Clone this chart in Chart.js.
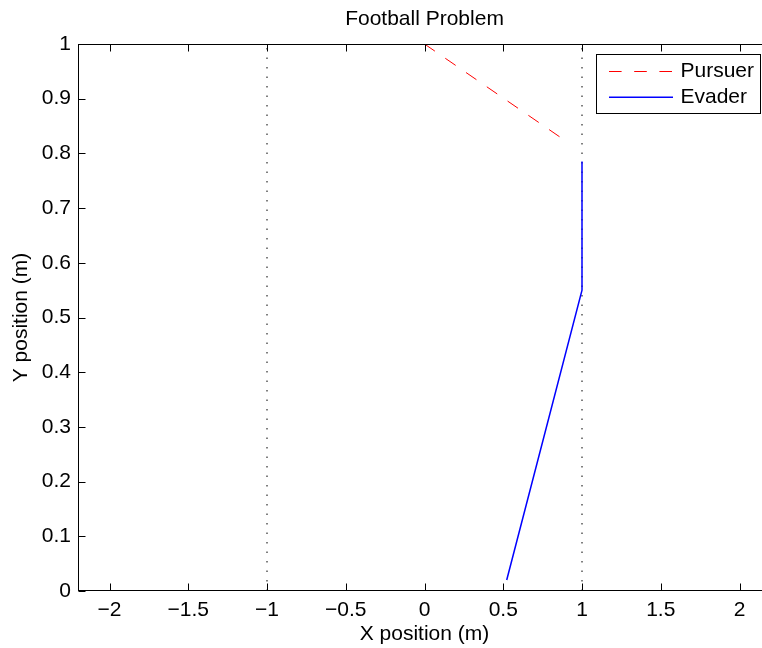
<!DOCTYPE html>
<html>
<head>
<meta charset="utf-8">
<script src="https://cdn.jsdelivr.net/npm/chart.js@4/dist/chart.umd.min.js"></script>
<style>
  html, body { margin: 0; padding: 0; background: #fff; overflow: hidden; }
  #wrap { position: absolute; left: 0; top: 0; width: 800px; height: 648px; }
</style>
</head>
<body>
<div id="wrap"><canvas id="c" width="800" height="648"></canvas></div>
<script>
// Trajectories (metres)
const pursuerX = [0, 0.89];
const pursuerY = [1, 0.824];
const evaderX = [0.522, 1, 1];
const evaderY = [0.02, 0.55, 0.785];

// Field sidelines
const sidelineLeftX = [-1, -1];
const sidelineRightX = [1, 1];
const sidelineY = [0, 1];

// Axis ticks
const xTickValues = [-2, -1.5, -1, -0.5, 0, 0.5, 1, 1.5, 2];
const yTickValues = [0, 0.1, 0.2, 0.3, 0.4, 0.5, 0.6, 0.7, 0.8, 0.9, 1];

const titleText = 'Football Problem';
const xTitle = 'X position (m)';
const yTitle = 'Y position (m)';

const FONT = "'Liberation Sans', Arial, Helvetica, sans-serif";
const FSIZE = 21;

const pts = (xs, ys) => xs.map((x, i) => ({ x: x, y: ys[i] }));
const fmt = v => String(Number(v.toFixed(2))).replace('-', '\u2212');

// Box, inward ticks, titles and legend in the plotting style of the figure
const framePlugin = {
  id: 'frame',
  afterDraw(chart) {
    const ctx = chart.ctx;
    const a = chart.chartArea;
    const xs = chart.scales.x, ys = chart.scales.y;
    const L = Math.round(a.left) + 0.5, R = Math.round(a.right) - 0.5;
    const T = Math.round(a.top) + 0.5, B = Math.round(a.bottom) - 0.5;
    ctx.save();
    ctx.strokeStyle = '#000';
    ctx.lineWidth = 1;
    ctx.strokeRect(L, T, R - L, B - T);
    const tl = 7;
    ctx.beginPath();
    xTickValues.forEach(v => {
      const px = Math.round(xs.getPixelForValue(v)) + 0.5;
      ctx.moveTo(px, B); ctx.lineTo(px, B - tl);
      ctx.moveTo(px, T); ctx.lineTo(px, T + tl);
    });
    yTickValues.forEach(v => {
      const py = Math.round(ys.getPixelForValue(v)) + 0.5;
      ctx.moveTo(L, py); ctx.lineTo(L + tl, py);
      ctx.moveTo(R, py); ctx.lineTo(R - tl, py);
    });
    ctx.stroke();

    // titles
    ctx.fillStyle = '#000';
    ctx.font = FSIZE + 'px ' + FONT;
    ctx.textAlign = 'center';
    ctx.textBaseline = 'middle';
    const cx = (a.left + a.right) / 2;
    ctx.fillText(titleText, cx, 19);
    ctx.fillText(xTitle, cx, 634);
    ctx.save();
    ctx.translate(21, (a.top + a.bottom) / 2);
    ctx.rotate(-Math.PI / 2);
    ctx.fillText(yTitle, 0, 0);
    ctx.restore();

    // legend
    const lx = 596.5, ly = 54.5, lw = 164, lh = 59;
    ctx.fillStyle = '#fff';
    ctx.fillRect(lx, ly, lw, lh);
    ctx.strokeStyle = '#000';
    ctx.lineWidth = 1;
    ctx.strokeRect(lx, ly, lw, lh);
    const entries = chart.data.datasets.filter(d => d.inLegend);
    entries.forEach((d, i) => {
      const y = 71.5 + i * 25.7;
      ctx.strokeStyle = d.borderColor;
      ctx.lineWidth = d.borderWidth;
      ctx.setLineDash(d.borderDash || []);
      ctx.beginPath();
      ctx.moveTo(609, y); ctx.lineTo(673, y);
      ctx.stroke();
      ctx.setLineDash([]);
      ctx.fillStyle = '#000';
      ctx.textAlign = 'left';
      ctx.fillText(d.label, 680.5, y);
    });
    ctx.restore();
  }
};

new Chart(document.getElementById('c'), {
  type: 'scatter',
  data: {
    datasets: [
      { label: 'Pursuer', inLegend: true, data: pts(pursuerX, pursuerY), showLine: true,
        borderColor: '#ff0000', borderWidth: 1, borderDash: [12.6, 12.6], pointRadius: 0, order: 1 },
      { label: 'Evader', inLegend: true, data: pts(evaderX, evaderY), showLine: true,
        borderColor: '#0000ff', borderWidth: 1.5, pointRadius: 0, order: 2 },
      { label: 'sideline', data: pts(sidelineLeftX, sidelineY), showLine: true,
        borderColor: '#000', borderWidth: 1, borderDash: [1.5, 8], pointRadius: 0, order: 10 },
      { label: 'sideline', data: pts(sidelineRightX, sidelineY), showLine: true,
        borderColor: '#000', borderWidth: 1, borderDash: [1.5, 8], pointRadius: 0, order: 10 }
    ]
  },
  options: {
    responsive: false,
    devicePixelRatio: 1,
    animation: false,
    layout: { padding: { top: 44, right: 29, left: 0, bottom: 0 } },
    plugins: { legend: { display: false }, tooltip: { enabled: false }, title: { display: false } },
    scales: {
      x: {
        type: 'linear', min: -2.2, max: 2.2,
        afterFit: s => { s.height = 57; },
        afterBuildTicks: s => { s.ticks = xTickValues.map(v => ({ value: v })); },
        grid: { display: false, drawTicks: false },
        border: { display: false },
        ticks: { color: '#000', padding: 7, maxRotation: 0, autoSkip: false,
                 font: { family: FONT, size: FSIZE }, callback: v => fmt(v) }
      },
      y: {
        type: 'linear', min: 0, max: 1,
        afterFit: s => { s.width = 78; },
        afterBuildTicks: s => { s.ticks = yTickValues.map(v => ({ value: v })); },
        grid: { display: false, drawTicks: false },
        border: { display: false },
        ticks: { color: '#000', padding: 7, autoSkip: false,
                 font: { family: FONT, size: FSIZE }, callback: v => fmt(v) }
      }
    }
  },
  plugins: [framePlugin]
});
</script>
</body>
</html>
